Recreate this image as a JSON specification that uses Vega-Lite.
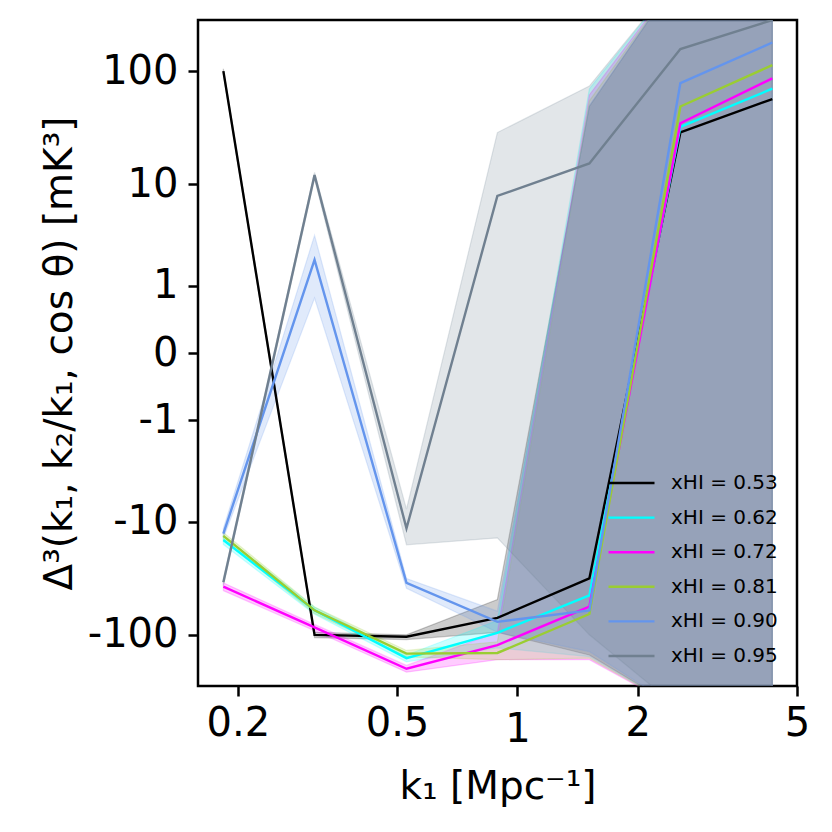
{
  "$schema": "https://vega.github.io/schema/vega-lite/v6.json",
  "width": 599,
  "height": 666,
  "autosize": {"type": "none"},
  "padding": {"left": 198, "top": 20, "right": 35, "bottom": 146},
  "background": "white",
  "config": {
    "view": {"stroke": "black", "strokeWidth": 2.5},
    "font": "DejaVu Sans",
    "axis": {
      "domain": false,
      "grid": false,
      "tickColor": "black",
      "tickWidth": 2.5,
      "tickSize": 10,
      "labelFont": "DejaVu Sans",
      "labelFontSize": 40,
      "labelColor": "black",
      "titleFont": "DejaVu Sans",
      "titleFontSize": 39,
      "titleFontWeight": "normal",
      "titleColor": "black"
    }
  },
  "datasets": {
    "d": [
      {"s": "xHI = 0.53", "k": 0.184, "v": 100, "lo": 95, "hi": 105},
      {"s": "xHI = 0.53", "k": 0.311, "v": -100, "lo": -106, "hi": -95},
      {"s": "xHI = 0.53", "k": 0.528, "v": -104, "lo": -110, "hi": -100},
      {"s": "xHI = 0.53", "k": 0.891, "v": -71, "lo": -95, "hi": -49},
      {"s": "xHI = 0.53", "k": 1.513, "v": -32, "lo": -150, "hi": 49},
      {"s": "xHI = 0.53", "k": 2.555, "v": 29, "lo": -450, "hi": 700},
      {"s": "xHI = 0.53", "k": 4.338, "v": 57, "lo": -1000, "hi": 1000},
      {"s": "xHI = 0.62", "k": 0.184, "v": -14.6, "lo": -16, "hi": -13.5},
      {"s": "xHI = 0.62", "k": 0.311, "v": -61, "lo": -66, "hi": -57},
      {"s": "xHI = 0.62", "k": 0.528, "v": -160, "lo": -172, "hi": -150},
      {"s": "xHI = 0.62", "k": 0.891, "v": -96, "lo": -130, "hi": -75},
      {"s": "xHI = 0.62", "k": 1.513, "v": -45, "lo": -155, "hi": 70},
      {"s": "xHI = 0.62", "k": 2.555, "v": 32.4, "lo": -450, "hi": 700},
      {"s": "xHI = 0.62", "k": 4.338, "v": 70.2, "lo": -1000, "hi": 1000},
      {"s": "xHI = 0.72", "k": 0.184, "v": -37.8, "lo": -41, "hi": -35},
      {"s": "xHI = 0.72", "k": 0.311, "v": -86, "lo": -92, "hi": -81},
      {"s": "xHI = 0.72", "k": 0.528, "v": -198, "lo": -212, "hi": -185},
      {"s": "xHI = 0.72", "k": 0.891, "v": -123, "lo": -165, "hi": -95},
      {"s": "xHI = 0.72", "k": 1.513, "v": -56.5, "lo": -165, "hi": 62},
      {"s": "xHI = 0.72", "k": 2.555, "v": 34.9, "lo": -450, "hi": 700},
      {"s": "xHI = 0.72", "k": 4.338, "v": 86.6, "lo": -1000, "hi": 1000},
      {"s": "xHI = 0.81", "k": 0.184, "v": -13.4, "lo": -14.5, "hi": -12.5},
      {"s": "xHI = 0.81", "k": 0.311, "v": -61, "lo": -65, "hi": -57},
      {"s": "xHI = 0.81", "k": 0.528, "v": -146, "lo": -156, "hi": -137},
      {"s": "xHI = 0.81", "k": 0.891, "v": -144, "lo": -165, "hi": -115},
      {"s": "xHI = 0.81", "k": 1.513, "v": -65.7, "lo": -160, "hi": 55},
      {"s": "xHI = 0.81", "k": 2.555, "v": 49, "lo": -450, "hi": 700},
      {"s": "xHI = 0.81", "k": 4.338, "v": 113, "lo": -1000, "hi": 1000},
      {"s": "xHI = 0.90", "k": 0.184, "v": -12.8, "lo": -14, "hi": -11.5},
      {"s": "xHI = 0.90", "k": 0.311, "v": 1.92, "lo": 0.705, "hi": 3.36},
      {"s": "xHI = 0.90", "k": 0.528, "v": -35, "lo": -39, "hi": -32},
      {"s": "xHI = 0.90", "k": 0.891, "v": -77, "lo": -95, "hi": -62},
      {"s": "xHI = 0.90", "k": 1.513, "v": -61, "lo": -140, "hi": 50},
      {"s": "xHI = 0.90", "k": 2.555, "v": 78.6, "lo": -450, "hi": 700},
      {"s": "xHI = 0.90", "k": 4.338, "v": 178, "lo": -1000, "hi": 1000},
      {"s": "xHI = 0.95", "k": 0.184, "v": -34.6, "lo": -37, "hi": -32},
      {"s": "xHI = 0.95", "k": 0.311, "v": 12.1, "lo": 11.2, "hi": 12.8},
      {"s": "xHI = 0.95", "k": 0.528, "v": -11.5, "lo": -16.1, "hi": -7.7},
      {"s": "xHI = 0.95", "k": 0.891, "v": 7.85, "lo": -14, "hi": 28.9},
      {"s": "xHI = 0.95", "k": 1.513, "v": 15.4, "lo": -100, "hi": 74},
      {"s": "xHI = 0.95", "k": 2.555, "v": 156, "lo": -450, "hi": 700},
      {"s": "xHI = 0.95", "k": 4.338, "v": 280, "lo": -1000, "hi": 1000}
    ]
  },
  "resolve": {"legend": {"color": "independent", "stroke": "independent", "fill": "independent"}},
  "layer": [
    {
      "data": {"name": "d"},
      "mark": {"type": "area", "fillOpacity": 0.2, "strokeOpacity": 0.2, "strokeWidth": 1.2, "clip": true},
      "encoding": {
        "x": {"field": "k", "type": "quantitative", "scale": {"type": "log", "domain": [0.159, 5.0], "nice": false},
          "axis": {"values": [0.2, 0.5, 1, 2, 5], "labelExpr": "'' + datum.value", "labelPadding": {"condition": {"test": "datum.value == 1", "value": 13}, "value": 7}, "title": "k₁ [Mpc⁻¹]", "titlePadding": 18, "labelFlush": false, "labelOverlap": false}},
        "y": {"field": "lo", "type": "quantitative", "scale": {"type": "symlog", "constant": 0.35, "domain": [-280, 280], "nice": false, "zero": false},
          "axis": {"values": [-100, -10, -1, 0, 1, 10, 100], "labelExpr": "'' + datum.value", "labelPadding": 10, "title": "Δ³(k₁, k₂/k₁, cos θ) [mK³]", "titlePadding": 8, "labelOverlap": false}},
        "y2": {"field": "hi"},
        "fill": {"field": "s", "type": "nominal", "legend": null,
          "scale": {"domain": ["xHI = 0.53", "xHI = 0.62", "xHI = 0.72", "xHI = 0.81", "xHI = 0.90", "xHI = 0.95"], "range": ["#000000", "#00ffff", "#ff00ff", "#9acd32", "#6495ed", "#708090"]}},
        "stroke": {"field": "s", "type": "nominal", "legend": null,
          "scale": {"domain": ["xHI = 0.53", "xHI = 0.62", "xHI = 0.72", "xHI = 0.81", "xHI = 0.90", "xHI = 0.95"], "range": ["#000000", "#00ffff", "#ff00ff", "#9acd32", "#6495ed", "#708090"]}},
        "order": {"field": "s"}
      }
    },
    {
      "data": {"name": "d"},
      "mark": {"type": "line", "strokeWidth": 2.4, "clip": true},
      "encoding": {
        "x": {"field": "k", "type": "quantitative"},
        "y": {"field": "v", "type": "quantitative"},
        "color": {"field": "s", "type": "nominal",
          "scale": {"domain": ["xHI = 0.53", "xHI = 0.62", "xHI = 0.72", "xHI = 0.81", "xHI = 0.90", "xHI = 0.95"], "range": ["#000000", "#00ffff", "#ff00ff", "#9acd32", "#6495ed", "#708090"]},
          "legend": {"orient": "none", "legendX": 409, "legendY": 453, "title": null, "symbolType": "stroke", "symbolSize": 2116, "symbolStrokeWidth": 2.4, "labelFontSize": 20, "labelFont": "DejaVu Sans", "labelColor": "black", "clipHeight": 20, "rowPadding": 14.6, "labelOffset": 15, "padding": 0}}
      }
    }
  ]
}
